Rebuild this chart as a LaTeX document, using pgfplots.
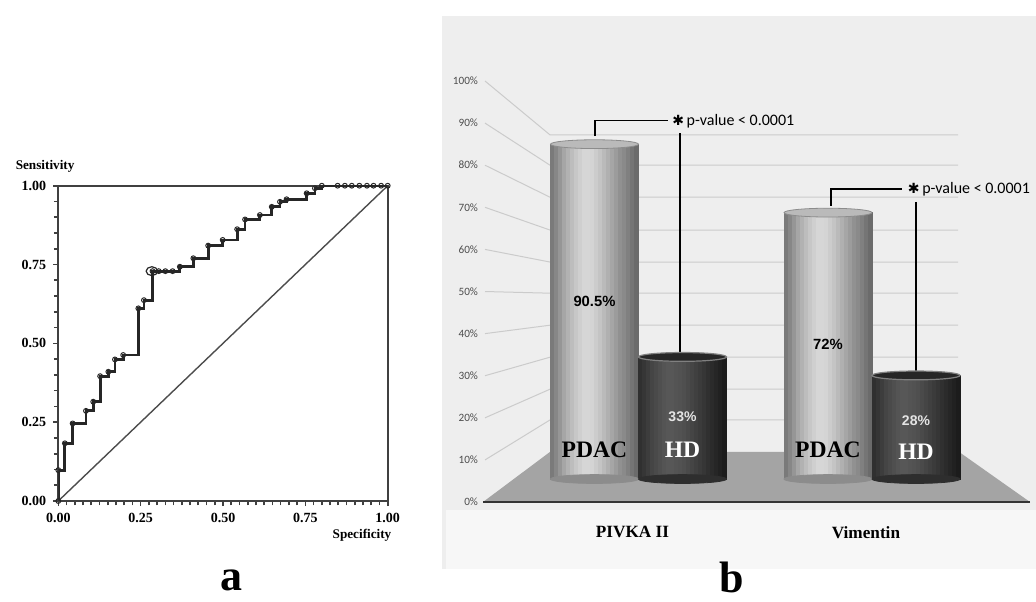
\documentclass[border=0pt]{standalone}
\usepackage{fontspec}
\setmainfont{Liberation Serif}
\newfontfamily\carlito{Carlito}
\newfontfamily\arial{Liberation Sans}
\newfontfamily\dejavu{DejaVu Sans}
\usepackage{pgfplots}
\pgfplotsset{compat=1.18}
\definecolor{panelgray}{HTML}{EEEEEE}
\definecolor{bandgray}{HTML}{F7F7F7}
\definecolor{floorgray}{HTML}{A4A4A4}
\definecolor{gridgray}{HTML}{CBCBCB}
\pgfplotsset{slice/.style={ybar, bar width=2pt, line width=0.3pt, fill=#1, draw=#1}}
\begin{document}
\begin{tikzpicture}
\path[use as bounding box] (0,0) rectangle (518pt,300.5pt);

% ---------------- panel a : ROC curve ----------------
\begin{axis}[
  at={(29.15pt,50pt)}, anchor=south west, scale only axis,
  width=164.7pt, height=157.65pt,
  xmin=0, xmax=1, ymin=0, ymax=1,
  xtick={0,0.25,0.5,0.75,1}, ytick={0,0.25,0.5,0.75,1},
  xticklabels={0.00,0.25,0.50,0.75,1.00},
  yticklabels={0.00,0.25,0.50,0.75,1.00},
  minor x tick num=9, minor y tick num=4,
  tick align=outside, tick pos=left,
  major tick length=2.6pt, minor tick length=2.2pt,
  every tick/.style={black!75, line width=0.8pt},
  axis line style={black!75, line width=1pt},
  ticklabel style={font=\bfseries\fontsize{7}{8}\selectfont},
  xlabel={Specificity},
  xlabel style={font=\bfseries\fontsize{6.6}{7}\selectfont, at={(axis description cs:0.922,-0.108)}, anchor=center},
  ylabel={Sensitivity},
  ylabel style={font=\bfseries\fontsize{6.6}{7}\selectfont, rotate=-90, at={(axis description cs:-0.04,1.02)}, anchor=south},
]
\addplot[black!70, line width=0.7pt] coordinates {(0,0) (1,1)};
\addplot[const plot, black!85, line width=1.4pt, mark=o, mark size=1.2pt,
  mark options={line width=0.5pt, fill=black!55}] coordinates {
 (0,0) (0,0.098) (0.020,0.183) (0.0435,0.246) (0.084,0.286) (0.106,0.315)
 (0.127,0.396) (0.152,0.41) (0.172,0.449) (0.197,0.463) (0.243,0.611)
 (0.26,0.637) (0.286,0.729) (0.305,0.729) (0.325,0.729) (0.347,0.729)
 (0.369,0.743) (0.41,0.77) (0.455,0.81) (0.499,0.828) (0.543,0.862)
 (0.567,0.893) (0.612,0.907) (0.648,0.933) (0.673,0.949) (0.693,0.957)
 (0.754,0.976) (0.779,0.992) (0.80,1.0) (0.848,1) (0.870,1) (0.891,1)
 (0.914,1) (0.937,1) (0.957,1) (0.980,1) (1.0,1)};
\addplot[only marks, mark=o, mark size=2.2pt,
  mark options={xscale=1.3, fill=white, draw=black!85, line width=0.6pt}]
  coordinates {(0.284,0.729)};
\end{axis}

% ---------------- panel b : background, perspective grid, floor ----------------
\begin{axis}[
  at={(221pt,16pt)}, anchor=south west, scale only axis,
  width=297pt, height=276.5pt,
  xmin=442, xmax=1036, ymin=-15.91, ymax=115.44,
  axis background/.style={fill=panelgray},
  axis line style={draw=none},
  xtick=\empty,
  ytick={0,10,20,30,40,50,60,70,80,90,100},
  yticklabels={0\%,10\%,20\%,30\%,40\%,50\%,60\%,70\%,80\%,90\%,100\%},
  major tick length=0pt,
  yticklabel style={font=\carlito\fontsize{5.6}{6}\selectfont, text=black!70, xshift=21.5pt},
  clip=false,
]
\addplot[fill=bandgray, draw=none] coordinates {(446,-1.9) (1036,-1.9) (1036,-15.91) (446,-15.91)};
\addplot[gridgray, line width=0.5pt] coordinates {(485,100) (550,87.2) (958,87.2)};
\addplot[gridgray, line width=0.5pt] coordinates {(485,90) (550,80.0) (958,80.0)};
\addplot[gridgray, line width=0.5pt] coordinates {(485,80) (550,72.4) (958,72.4)};
\addplot[gridgray, line width=0.5pt] coordinates {(485,70) (550,64.6) (958,64.6)};
\addplot[gridgray, line width=0.5pt] coordinates {(485,60) (550,57.0) (958,57.0)};
\addplot[gridgray, line width=0.5pt] coordinates {(485,50) (550,49.6) (958,49.6)};
\addplot[gridgray, line width=0.5pt] coordinates {(485,40) (550,42.0) (958,42.0)};
\addplot[gridgray, line width=0.5pt] coordinates {(485,30) (550,34.4) (958,34.4)};
\addplot[gridgray, line width=0.5pt] coordinates {(485,20) (550,26.8) (958,26.8)};
\addplot[gridgray, line width=0.5pt] coordinates {(485,10) (550,19.5) (958,19.5)};
\addplot[fill=floorgray, draw=none] coordinates {(483,0) (1030,0) (959,11.9) (550,11.9)};
\addplot[black!80, line width=1pt] coordinates {(483,0) (1030,0)};
\end{axis}

% ---------------- panel b : cylinders ----------------
\begin{axis}[
  at={(221pt,16pt)}, anchor=south west, scale only axis,
  width=297pt, height=276.5pt,
  xmin=-0.8415, xmax=1.7024, ymin=-24.32, ymax=125.14,
  axis line style={draw=none},
  xtick={0,1}, xticklabels={PIVKA II, Vimentin},
  ytick=\empty, major tick length=0pt,
  xticklabel style={font=\bfseries\fontsize{8.6}{9}\selectfont, yshift=25pt, xshift=-3pt},
  clip=false,
]
% bottom caps
\addplot[only marks, mark=*, mark size=22pt,
  mark options={xshift=-22pt, yscale=0.1, fill=black!45, draw=black!45}] coordinates {(0,0) (1,0)};
\addplot[only marks, mark=*, mark size=22pt,
  mark options={xshift=22pt, yscale=0.1, fill=black!82, draw=black!82}] coordinates {(0,0) (1,0)};
% PDAC cylinder bodies: PIVKA II 90.5 %, Vimentin 72 % (thin slices give the round shading)
\addplot[slice=black!52, bar shift=-43pt] coordinates {(0,90.5) (1,72)};
\addplot[slice=black!47, bar shift=-41pt] coordinates {(0,90.5) (1,72)};
\addplot[slice=black!41, bar shift=-39pt] coordinates {(0,90.5) (1,72)};
\addplot[slice=black!35, bar shift=-37pt] coordinates {(0,90.5) (1,72)};
\addplot[slice=black!30, bar shift=-35pt] coordinates {(0,90.5) (1,72)};
\addplot[slice=black!26, bar shift=-33pt] coordinates {(0,90.5) (1,72)};
\addplot[slice=black!22, bar shift=-31pt] coordinates {(0,90.5) (1,72)};
\addplot[slice=black!19, bar shift=-29pt] coordinates {(0,90.5) (1,72)};
\addplot[slice=black!16, bar shift=-27pt] coordinates {(0,90.5) (1,72)};
\addplot[slice=black!16, bar shift=-25pt] coordinates {(0,90.5) (1,72)};
\addplot[slice=black!17, bar shift=-23pt] coordinates {(0,90.5) (1,72)};
\addplot[slice=black!20, bar shift=-21pt] coordinates {(0,90.5) (1,72)};
\addplot[slice=black!23, bar shift=-19pt] coordinates {(0,90.5) (1,72)};
\addplot[slice=black!27, bar shift=-17pt] coordinates {(0,90.5) (1,72)};
\addplot[slice=black!31, bar shift=-15pt] coordinates {(0,90.5) (1,72)};
\addplot[slice=black!35, bar shift=-13pt] coordinates {(0,90.5) (1,72)};
\addplot[slice=black!39, bar shift=-11pt] coordinates {(0,90.5) (1,72)};
\addplot[slice=black!43, bar shift=-9pt]  coordinates {(0,90.5) (1,72)};
\addplot[slice=black!46, bar shift=-7pt]  coordinates {(0,90.5) (1,72)};
\addplot[slice=black!50, bar shift=-5pt]  coordinates {(0,90.5) (1,72)};
\addplot[slice=black!54, bar shift=-3pt]  coordinates {(0,90.5) (1,72)};
\addplot[slice=black!58, bar shift=-1pt]  coordinates {(0,90.5) (1,72)};
% HD cylinder bodies: PIVKA II 33 %, Vimentin 28 %
\addplot[slice=black!81, bar shift=1pt]  coordinates {(0,33) (1,28)};
\addplot[slice=black!79, bar shift=3pt]  coordinates {(0,33) (1,28)};
\addplot[slice=black!76, bar shift=5pt]  coordinates {(0,33) (1,28)};
\addplot[slice=black!73, bar shift=7pt]  coordinates {(0,33) (1,28)};
\addplot[slice=black!71, bar shift=9pt]  coordinates {(0,33) (1,28)};
\addplot[slice=black!69, bar shift=11pt] coordinates {(0,33) (1,28)};
\addplot[slice=black!67, bar shift=13pt] coordinates {(0,33) (1,28)};
\addplot[slice=black!66, bar shift=15pt] coordinates {(0,33) (1,28)};
\addplot[slice=black!66, bar shift=17pt] coordinates {(0,33) (1,28)};
\addplot[slice=black!67, bar shift=19pt] coordinates {(0,33) (1,28)};
\addplot[slice=black!68, bar shift=21pt] coordinates {(0,33) (1,28)};
\addplot[slice=black!69, bar shift=23pt] coordinates {(0,33) (1,28)};
\addplot[slice=black!71, bar shift=25pt] coordinates {(0,33) (1,28)};
\addplot[slice=black!73, bar shift=27pt] coordinates {(0,33) (1,28)};
\addplot[slice=black!75, bar shift=29pt] coordinates {(0,33) (1,28)};
\addplot[slice=black!77, bar shift=31pt] coordinates {(0,33) (1,28)};
\addplot[slice=black!79, bar shift=33pt] coordinates {(0,33) (1,28)};
\addplot[slice=black!81, bar shift=35pt] coordinates {(0,33) (1,28)};
\addplot[slice=black!83, bar shift=37pt] coordinates {(0,33) (1,28)};
\addplot[slice=black!85, bar shift=39pt] coordinates {(0,33) (1,28)};
\addplot[slice=black!87, bar shift=41pt] coordinates {(0,33) (1,28)};
\addplot[slice=black!89, bar shift=43pt] coordinates {(0,33) (1,28)};
% top caps
\addplot[only marks, mark=*, mark size=22pt,
  mark options={xshift=-22pt, yscale=0.1, fill=black!27, draw=black!45, line width=0.4pt}] coordinates {(0,90.5) (1,72)};
\addplot[only marks, mark=*, mark size=22pt,
  mark options={xshift=22pt, yscale=0.1, fill=black!85, draw=black!50, line width=0.6pt}] coordinates {(0,33) (1,28)};
% significance brackets
\addplot[black, line width=0.6pt] coordinates {(-0.186,92.7) (-0.186,96.8) (0.126,96.8)};
\addplot[black, line width=0.6pt] coordinates {(0.178,93.5) (0.178,34.2)};
\addplot[black, line width=0.6pt] coordinates {(0.824,73.8) (0.824,78.4) (1.128,78.4)};
\addplot[black, line width=0.6pt] coordinates {(1.188,74.9) (1.188,29.2)};
\node[anchor=base west, inner sep=0pt, font=\carlito\fontsize{8}{9}\selectfont] at (axis cs:0.143,95.6)
  {{\dejavu\fontsize{7}{8}\selectfont\char"2731}\,p-value < 0.0001};
\node[anchor=base west, inner sep=0pt, font=\carlito\fontsize{8}{9}\selectfont] at (axis cs:1.152,77.2)
  {{\dejavu\fontsize{7}{8}\selectfont\char"2731}\,p-value < 0.0001};
% value labels
\node[font=\arial\bfseries\fontsize{7.4}{8}\selectfont, xshift=-22pt] at (axis cs:0,48.1) {90.5\%};
\node[font=\arial\bfseries\fontsize{7}{8}\selectfont, text=white!90!black, xshift=22pt] at (axis cs:0,16.8) {33\%};
\node[font=\arial\bfseries\fontsize{7.4}{8}\selectfont, xshift=-22pt] at (axis cs:1,36.5) {72\%};
\node[font=\arial\bfseries\fontsize{7}{8}\selectfont, text=white!90!black, xshift=22pt] at (axis cs:1,15.7) {28\%};
\node[font=\bfseries\fontsize{11.8}{12}\selectfont, xshift=-22pt] at (axis cs:0,7.8) {PDAC};
\node[font=\bfseries\fontsize{11.8}{12}\selectfont, text=white, xshift=22pt] at (axis cs:0,7.8) {HD};
\node[font=\bfseries\fontsize{11.8}{12}\selectfont, xshift=-22pt] at (axis cs:1,7.8) {PDAC};
\node[font=\bfseries\fontsize{11.8}{12}\selectfont, text=white, xshift=22pt] at (axis cs:1,7.3) {HD};
\end{axis}

% panel letters
\node[anchor=base, font=\bfseries\fontsize{22}{24}\selectfont, inner sep=0pt] at (115.5pt,5.5pt) {a};
\node[anchor=base, font=\bfseries\fontsize{22}{24}\selectfont, inner sep=0pt] at (366pt,4.5pt) {b};
\end{tikzpicture}
\end{document}
